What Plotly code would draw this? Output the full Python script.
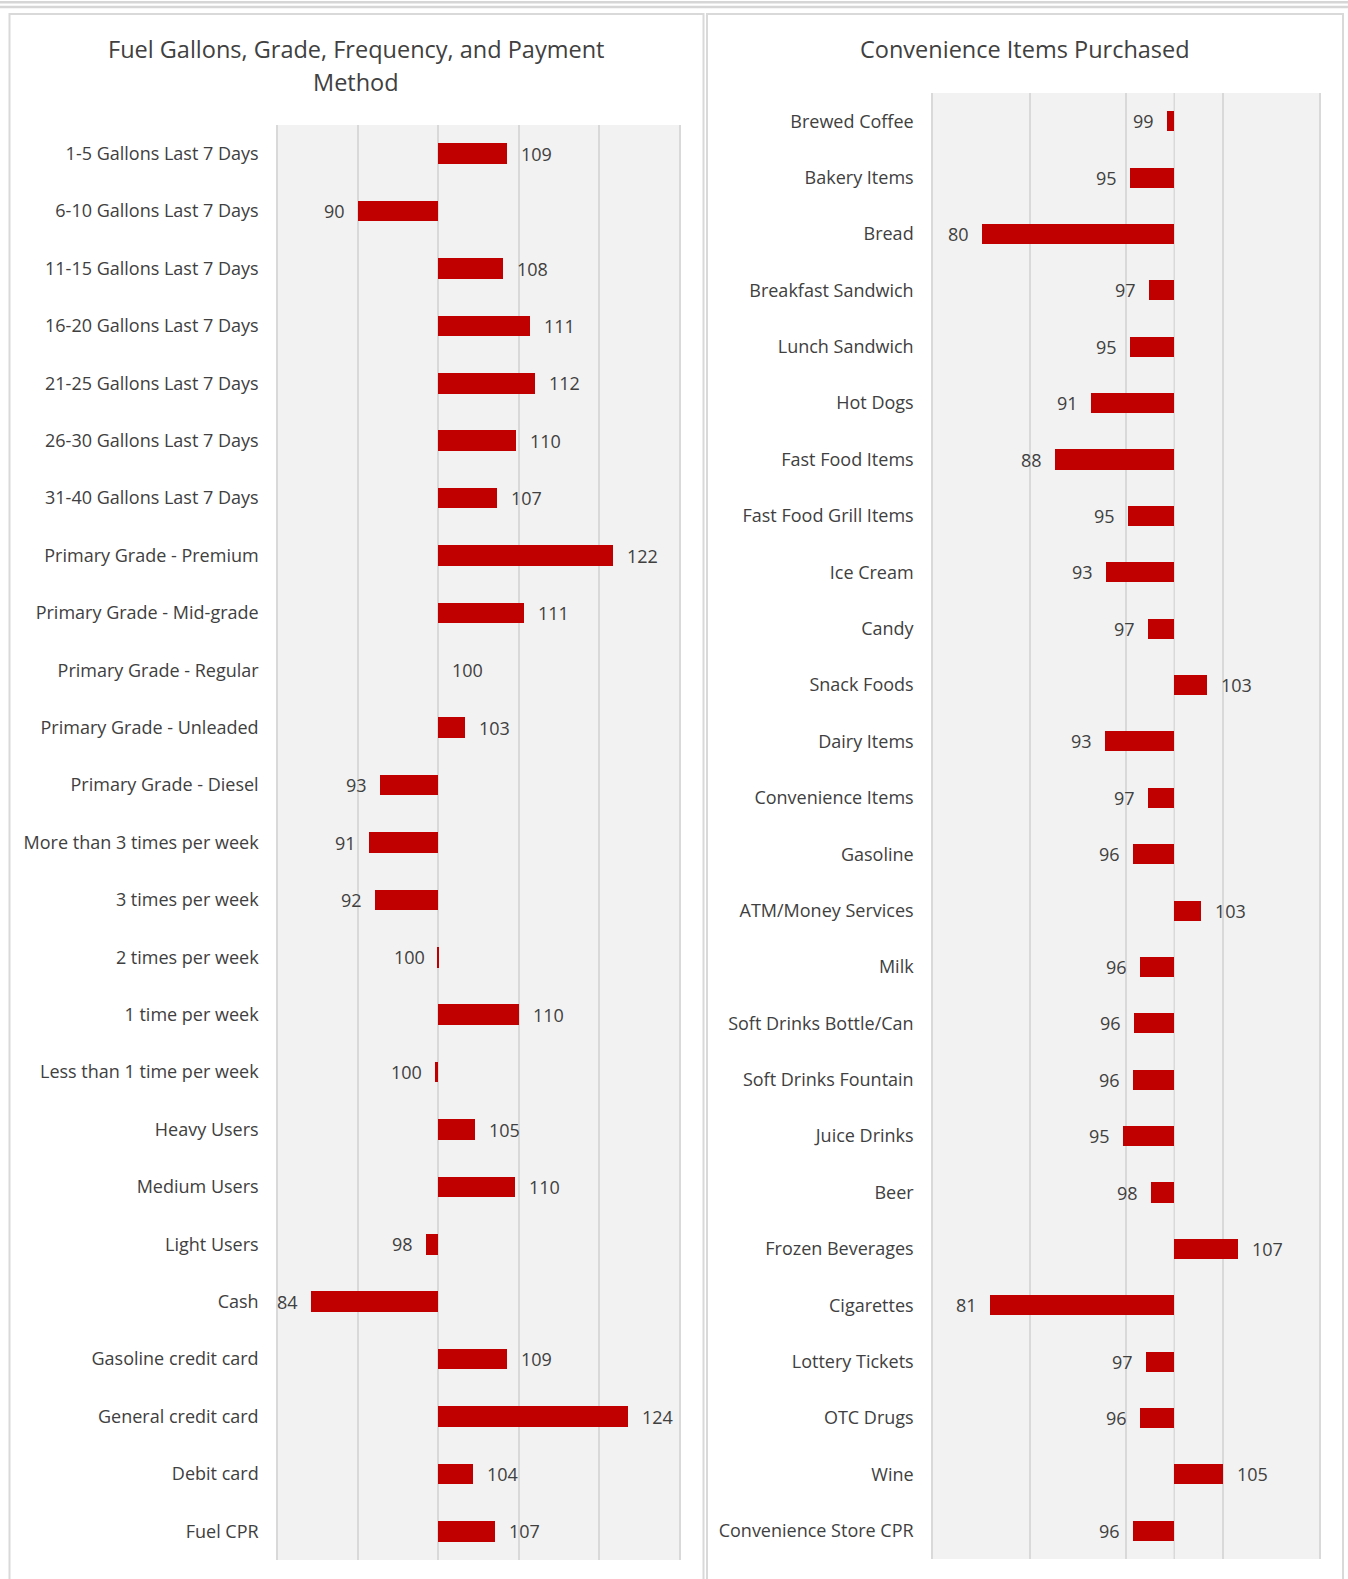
import plotly.graph_objects as go

# ---------------- data ----------------
fuel_categories = [
    "1-5 Gallons Last 7 Days", "6-10 Gallons Last 7 Days", "11-15 Gallons Last 7 Days",
    "16-20 Gallons Last 7 Days", "21-25 Gallons Last 7 Days", "26-30 Gallons Last 7 Days",
    "31-40 Gallons Last 7 Days", "Primary Grade - Premium", "Primary Grade - Mid-grade",
    "Primary Grade - Regular", "Primary Grade - Unleaded", "Primary Grade - Diesel",
    "More than 3 times per week", "3 times per week", "2 times per week",
    "1 time per week", "Less than 1 time per week", "Heavy Users", "Medium Users",
    "Light Users", "Cash", "Gasoline credit card", "General credit card",
    "Debit card", "Fuel CPR",
]
fuel_values = [
    108.6, 90.0, 108.0, 111.4, 112.0, 109.7, 107.3, 121.8, 110.7, 100.0, 103.3,
    92.7, 91.4, 92.1, 99.9, 110.1, 99.55, 104.6, 109.6, 98.4, 84.1, 108.6,
    123.6, 104.3, 107.1,
]

conv_categories = [
    "Brewed Coffee", "Bakery Items", "Bread", "Breakfast Sandwich", "Lunch Sandwich",
    "Hot Dogs", "Fast Food Items", "Fast Food Grill Items", "Ice Cream", "Candy",
    "Snack Foods", "Dairy Items", "Convenience Items", "Gasoline", "ATM/Money Services",
    "Milk", "Soft Drinks Bottle/Can", "Soft Drinks Fountain", "Juice Drinks", "Beer",
    "Frozen Beverages", "Cigarettes", "Lottery Tickets", "OTC Drugs", "Wine",
    "Convenience Store CPR",
]
conv_values = [
    99.2, 95.4, 80.1, 97.4, 95.4, 91.4, 87.6, 95.2, 92.9, 97.3, 103.4, 92.8,
    97.3, 95.7, 102.8, 96.4, 95.8, 95.7, 94.7, 97.6, 106.6, 80.9, 97.1, 96.4,
    105.1, 95.7,
]

fuel_title_lines = ["Fuel Gallons, Grade, Frequency, and Payment", "Method"]
conv_title_lines = ["Convenience Items Purchased"]
BASE = 100

# ---------------- style ----------------
W, H = 1348, 1579
FONT = "Open Sans"
TXT = "#404040"
RED = "#C00000"
GRID = "#D9D9D9"
PLOTBG = "#F2F2F2"


def px_x(p):
    return p / W


def px_y(p):
    return 1 - p / H


fig = go.Figure()

fig.add_trace(go.Bar(
    y=fuel_categories, x=[v - BASE for v in fuel_values], base=BASE,
    orientation="h", marker=dict(color=RED, line=dict(width=0)),
    width=0.36, xaxis="x", yaxis="y", showlegend=False, hoverinfo="skip",
))
fig.add_trace(go.Bar(
    y=conv_categories, x=[v - BASE for v in conv_values], base=BASE,
    orientation="h", marker=dict(color=RED, line=dict(width=0)),
    width=0.355, xaxis="x2", yaxis="y2", showlegend=False, hoverinfo="skip",
))

annotations = []
for cats, vals, xr, yr in [(fuel_categories, fuel_values, "x", "y"),
                           (conv_categories, conv_values, "x2", "y2")]:
    for c, v in zip(cats, vals):
        right = v >= BASE
        annotations.append(dict(
            x=v, y=c, xref=xr, yref=yr, text=f"{v:.0f}", showarrow=False,
            xanchor="left" if right else "right", xshift=12 if right else -11,
            yshift=0,
            font=dict(family=FONT, size=18, color=TXT),
        ))

for lines, cx in [(fuel_title_lines, 356), (conv_title_lines, 1025)]:
    for i, line in enumerate(lines):
        annotations.append(dict(
            x=px_x(cx), y=px_y(49 + 33 * i), xref="paper", yref="paper", text=line,
            showarrow=False, xanchor="center", yanchor="middle",
            font=dict(family=FONT, size=23.5, color=TXT),
        ))

frame_line = dict(color=GRID, width=2)
shapes = [
    # double rule at the very top
    dict(type="line", xref="paper", yref="paper", x0=0, x1=1, y0=px_y(2.3), y1=px_y(2.3),
         line=dict(color="#D6D6D6", width=2.5), layer="below"),
    dict(type="line", xref="paper", yref="paper", x0=0, x1=1, y0=px_y(6.9), y1=px_y(6.9),
         line=dict(color="#D6D6D6", width=2.5), layer="below"),
    # panel frames
    dict(type="rect", xref="paper", yref="paper", x0=px_x(9.5), x1=px_x(703.5),
         y0=px_y(14), y1=px_y(1600), line=frame_line, layer="below"),
    dict(type="rect", xref="paper", yref="paper", x0=px_x(707), x1=px_x(1343),
         y0=px_y(14), y1=px_y(1600), line=frame_line, layer="below"),
    # 100 reference line on the right panel
    dict(type="line", xref="x2", yref="y2 domain", x0=BASE, x1=BASE, y0=0, y1=1,
         line=dict(color=GRID, width=1.5), layer="below"),
]

axis_common = dict(showticklabels=False, ticks="", showgrid=True, gridcolor=GRID,
                   gridwidth=1.5, zeroline=False, showline=False, fixedrange=True)
yaxis_common = dict(type="category", autorange="reversed", showgrid=False,
                    zeroline=False, showline=True, mirror=True, linecolor=GRID,
                    linewidth=1.5, ticks="", ticklabelstandoff=14,
                    tickfont=dict(family=FONT, size=18, color=TXT), fixedrange=True)

fig.update_layout(
    width=W, height=H, margin=dict(l=0, r=0, t=0, b=0),
    paper_bgcolor="white", plot_bgcolor=PLOTBG, bargap=0,
    xaxis=dict(domain=[px_x(278), px_x(679)], range=[80, 130], tick0=80, dtick=10,
               anchor="y", **axis_common),
    yaxis=dict(domain=[px_y(1560), px_y(125)], anchor="x", **yaxis_common),
    xaxis2=dict(domain=[px_x(933), px_x(1319)], range=[75, 115], tick0=75, dtick=10,
                anchor="y2", **axis_common),
    yaxis2=dict(domain=[px_y(1559), px_y(93)], anchor="x2", **yaxis_common),
    annotations=annotations, shapes=shapes,
    font=dict(family=FONT, color=TXT),
)

fig.write_html("out.html")
